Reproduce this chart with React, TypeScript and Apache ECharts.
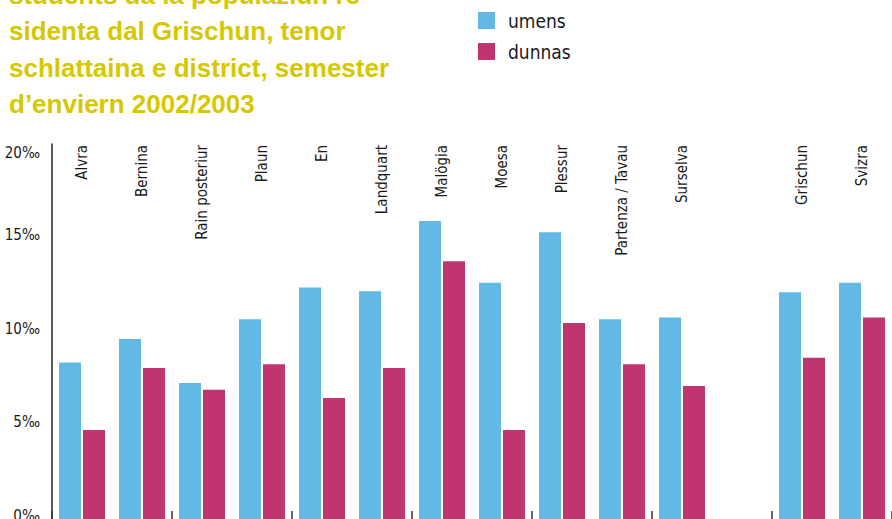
import React, { useEffect, useRef } from "react";
import * as echarts from "echarts";

const categories = [
  "Alvra", "Bernina", "Rain posteriur", "Plaun", "En", "Landquart", "Malögia",
  "Moesa", "Plessur", "Partenza / Tavau", "Surselva", "", "Grischun", "Svizra",
];
const umens = [8.35, 9.6, 7.25, 10.65, 12.35, 12.15, 15.9, 12.6, 15.3, 10.65, 10.75, null, 12.1, 12.6];
const dunnas = [4.75, 8.05, 6.9, 8.25, 6.45, 8.05, 13.75, 4.75, 10.45, 8.25, 7.1, null, 8.6, 10.75];
const yTicks = [0, 5, 10, 15, 20];
const titleLines = [
  "students da la populaziun re-",
  "sidenta dal Grischun, tenor",
  "schlattaina e district, semester",
  "d’enviern 2002/2003",
];

const NARROW = '"DejaVu Sans Condensed", "DejaVu Sans", sans-serif';
const TITLE_FONT = '"Liberation Sans", Arial, sans-serif';

export default function App() {
  const ref = useRef<HTMLDivElement>(null);
  useEffect(() => {
    if (!ref.current) return;
    const chart = echarts.init(ref.current, undefined, { renderer: "svg" });
    const titleY = [-5, 31, 68, 104];
    const labelText = { fontFamily: NARROW, fontSize: 15, color: "#1a1a1a" };
    chart.setOption({
      animation: false,
      backgroundColor: "#ffffff",
      grid: {
        left: 52,
        right: 0,
        top: 144,
        bottom: 0,
        containLabel: false,
        outerBoundsMode: "none",
      },
      legend: {
        orient: "vertical",
        left: 478,
        top: 11,
        padding: 0,
        itemWidth: 17,
        itemHeight: 17,
        itemGap: 12,
        icon: "rect",
        data: ["umens", "dunnas"],
        textStyle: { fontFamily: NARROW, fontSize: 19, color: "#1a1a1a", padding: [0, 0, 0, 8] },
      },
      graphic: titleLines.map((t, i) => ({
        type: "text",
        left: 9,
        top: titleY[i] - 13,
        style: {
          text: t,
          font: `bold 26px ${TITLE_FONT}`,
          fill: "#d6c800",
        },
      })),
      xAxis: [
        {
          type: "category",
          data: categories,
          position: "bottom",
          axisLine: { show: false },
          axisTick: { show: true, inside: true, length: 8, lineStyle: { color: "#333", width: 1.5 } },
          axisLabel: { show: false },
          splitLine: { show: false },
        },
        {
          type: "category",
          data: categories,
          position: "top",
          axisLine: { show: false },
          axisTick: { show: false },
          axisLabel: {
            show: true,
            inside: true,
            rotate: -90,
            margin: 1,
            interval: 0,
            ...labelText,
          },
          splitLine: { show: false },
        },
      ],
      yAxis: {
        type: "value",
        min: 0,
        max: 20,
        interval: 5,
        axisLine: { show: true, lineStyle: { color: "#222", width: 1.5 } },
        axisTick: { show: false },
        splitLine: { show: false },
        axisLabel: {
          margin: 12,
          ...labelText,
          formatter: (v: number) => {
            if (!yTicks.includes(v)) return "";
            return v === 20 ? `{top|${v}‰}` : `{up|${v}‰}`;
          },
          rich: {
            top: { ...labelText, padding: [18, 0, 0, 0] },
            up: { ...labelText, padding: [0, 0, 6, 0] },
          },
        },
      },
      series: [
        {
          name: "umens",
          type: "bar",
          data: umens,
          barWidth: 22,
          barGap: "9%",
          itemStyle: { color: "#63b9e5" },
        },
        {
          name: "dunnas",
          type: "bar",
          data: dunnas,
          barWidth: 22,
          barGap: "9%",
          itemStyle: { color: "#c03470" },
        },
      ],
    });
    return () => chart.dispose();
  }, []);
  return (
    <div
      ref={ref}
      style={{ position: "fixed", left: 0, top: 0, width: 892, height: 519, background: "#fff" }}
    />
  );
}
